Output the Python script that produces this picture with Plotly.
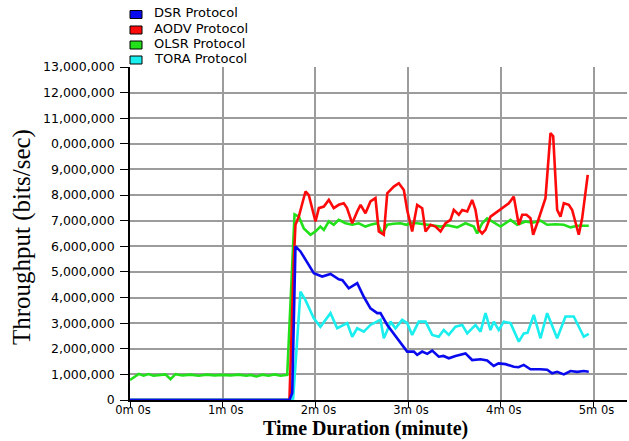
import plotly.graph_objects as go

# ---------------- data (time in minutes, throughput in bits/sec) ----------------
dsr_t = [0, 1.72, 1.750, 1.785, 1.839, 1.983, 2.073, 2.163, 2.252, 2.292, 2.360, 2.451, 2.522, 2.594,
         2.667, 2.702, 2.775, 2.846, 2.990, 3.062, 3.098, 3.152, 3.206, 3.260, 3.331, 3.382, 3.439,
         3.511, 3.619, 3.691, 3.781, 3.853, 3.924, 3.975, 4.051, 4.140, 4.191, 4.248, 4.320, 4.428,
         4.500, 4.554, 4.608, 4.680, 4.752, 4.824, 4.895, 4.949]
dsr_v = [0, 0, 0.27, 6.0, 5.8, 4.95, 4.82, 4.92, 4.71, 4.68, 4.36, 4.56, 4.03, 3.58,
         3.39, 3.39, 2.93, 2.6, 1.89, 1.89, 1.76, 1.89, 1.8, 1.93, 1.69, 1.72, 1.63,
         1.72, 1.82, 1.56, 1.59, 1.54, 1.33, 1.43, 1.40, 1.30, 1.28, 1.37, 1.2, 1.2,
         1.18, 1.04, 1.1, 1.0, 1.13, 1.1, 1.13, 1.1]

aodv_t = [0, 1.72, 1.767, 1.785, 1.821, 1.893, 1.929, 1.965, 2.001, 2.037, 2.091, 2.145, 2.198, 2.252,
          2.306, 2.340, 2.397, 2.451, 2.487, 2.540, 2.594, 2.648, 2.684, 2.738, 2.775, 2.846, 2.900,
          2.954, 2.990, 3.044, 3.098, 3.152, 3.188, 3.242, 3.296, 3.350, 3.404, 3.457, 3.493, 3.547,
          3.584, 3.638, 3.691, 3.727, 3.763, 3.799, 3.835, 3.889, 3.961, 4.032, 4.086, 4.140, 4.194,
          4.231, 4.277, 4.320, 4.349, 4.393, 4.482, 4.536, 4.565, 4.608, 4.644, 4.680, 4.734, 4.770,
          4.841, 4.878, 4.938]
aodv_v = [0, 0, 5.47, 6.84, 7.16, 8.14, 8.0, 7.49, 6.97, 7.49, 7.55, 7.81, 7.49, 7.62,
          7.68, 7.5, 6.9, 7.36, 7.62, 7.29, 7.75, 7.88, 6.58, 6.45, 8.07, 8.33, 8.46,
          8.2, 7.42, 6.58, 7.62, 7.49, 6.58, 6.84, 6.77, 6.58, 6.9, 7.03, 7.42, 7.23,
          7.42, 7.36, 7.81, 7.42, 6.64, 6.5, 6.64, 7.16, 7.36, 7.55, 7.68, 7.94, 6.84,
          7.23, 7.23, 7.1, 6.45, 6.9, 7.88, 10.42, 10.3, 7.42, 7.16, 7.68, 7.62, 7.42,
          6.45, 7.1, 8.79]

olsr_t = [0, 0.095, 0.146, 0.200, 0.253, 0.329, 0.383, 0.437, 0.491, 0.566, 0.652, 0.739, 0.825,
          0.912, 0.998, 1.084, 1.170, 1.257, 1.300, 1.365, 1.429, 1.494, 1.559, 1.624, 1.696, 1.775,
          1.821, 1.875, 1.947, 2.001, 2.054, 2.091, 2.145, 2.198, 2.252, 2.325, 2.397, 2.468, 2.540,
          2.594, 2.667, 2.721, 2.775, 2.843, 2.918, 2.983, 3.026, 3.098, 3.206, 3.274, 3.350, 3.425,
          3.530, 3.619, 3.709, 3.745, 3.799, 3.853, 3.921, 3.997, 4.105, 4.177, 4.266, 4.342, 4.428,
          4.500, 4.590, 4.680, 4.752, 4.827, 4.895, 4.949]
olsr_v = [0.78, 1.02, 0.95, 1.01, 0.95, 0.98, 1.0, 0.81, 1.01, 0.96, 0.99, 0.95, 0.99,
          0.96, 0.98, 0.96, 0.99, 0.95, 0.98, 0.92, 0.99, 0.95, 1.0, 0.95, 0.98, 7.25,
          7.16, 6.7, 6.45, 6.58, 6.77, 6.64, 6.97, 6.84, 7.03, 6.9, 6.84, 6.9, 6.77,
          6.84, 6.9, 6.5, 6.84, 6.88, 6.9, 6.84, 6.9, 6.9, 6.84, 6.8, 6.77, 6.82,
          6.74, 6.9, 6.77, 6.5, 6.9, 7.09, 6.95, 6.77, 7.03, 6.84, 6.97, 6.92, 7.0,
          6.84, 6.86, 6.84, 6.74, 6.8, 6.8, 6.8]

tora_t = [0, 1.72, 1.760, 1.839, 1.893, 1.983, 2.054, 2.109, 2.163, 2.235, 2.343, 2.397, 2.451, 2.522,
          2.594, 2.702, 2.738, 2.792, 2.810, 2.864, 2.936, 2.990, 3.044, 3.115, 3.188, 3.260, 3.331,
          3.385, 3.439, 3.511, 3.584, 3.638, 3.727, 3.781, 3.835, 3.889, 3.924, 3.978, 4.032, 4.105,
          4.194, 4.248, 4.288, 4.356, 4.428, 4.500, 4.554, 4.608, 4.698, 4.787, 4.895, 4.949]
tora_v = [0.02, 0.02, 0.05, 4.23, 3.9, 3.19, 2.86, 3.13, 3.39, 2.8, 3.0, 2.47, 2.8, 2.67,
          2.93, 3.13, 2.41, 2.86, 3.06, 2.8, 3.13, 3.0, 2.54, 3.06, 3.06, 2.54, 2.47,
          2.73, 2.54, 2.86, 2.93, 2.6, 2.93, 2.67, 3.39, 2.73, 3.06, 2.73, 3.06, 3.0,
          2.28, 2.6, 2.62, 3.32, 2.41, 3.39, 2.93, 2.41, 3.26, 3.26, 2.47, 2.58]

names = ["DSR Protocol", "AODV Protocol", "OLSR Protocol", "TORA Protocol"]
colors = ["#0a0aee", "#ff0a0a", "#22e01a", "#1aeeee"]

x_tickvals = [0, 1, 2, 3, 4, 5]
x_ticktext = ["0m 0s", "1m 0s", "2m 0s", "3m 0s", "4m 0s", "5m 0s"]
y_tickvals = [i * 1_000_000 for i in range(14)]
y_ticktext = ["0", "1,000,000", "2,000,000", "3,000,000", "4,000,000", "5,000,000",
              "6,000,000", "7,000,000", "8,000,000", "9,000,000", "0,000,000",
              "11,000,000", "12,000,000", "13,000,000"]

x_title = "Time Duration (minute)"
y_title = "Throughput (bits/sec)"

# ---------------- figure ----------------
W, H = 629, 441
ML, MR, MT, MB = 130, 2, 67, 41
PW, PH = W - ML - MR, H - MT - MB


def px(x):
    return (x - ML) / PW


def py(y):
    return (H - MB - y) / PH


series = [(dsr_t, dsr_v), (aodv_t, aodv_v), (olsr_t, olsr_v), (tora_t, tora_v)]
fig = go.Figure()
# draw TORA, OLSR, AODV, DSR so DSR ends up on top
for i in [3, 2, 1, 0]:
    t, v = series[i]
    fig.add_trace(go.Scatter(
        x=t, y=[val * 1_000_000 for val in v], mode="lines", name=names[i],
        line=dict(color=colors[i], width=2.6), showlegend=False,
    ))

fig.update_layout(
    width=W, height=H,
    margin=dict(l=ML, r=MR, t=MT, b=MB, autoexpand=False),
    paper_bgcolor="white", plot_bgcolor="white",
    font=dict(family="DejaVu Sans", size=12, color="black"),
    showlegend=False,
)
fig.update_xaxes(
    range=[0, PW / 92.7], tickvals=x_tickvals, ticktext=x_ticktext,
    showgrid=True, gridcolor="#9c9c9c", gridwidth=1.5,
    showline=True, linecolor="black", linewidth=1.5,
    ticks="outside", ticklen=5, tickcolor="black", tickwidth=1.2,
    ticklabelstandoff=-7, ticklabelshift=3,
    tickfont=dict(family="DejaVu Sans", size=11.5), zeroline=False,
)
fig.update_yaxes(
    range=[0, 13_000_000], tickvals=y_tickvals, ticktext=y_ticktext,
    showgrid=True, gridcolor="#9c9c9c", gridwidth=1.5,
    showline=True, linecolor="black", linewidth=1.8,
    ticks="outside", ticklen=8, tickcolor="black", tickwidth=1.2,
    ticklabelstandoff=3,
    tickfont=dict(family="DejaVu Sans", size=12.5), zeroline=False,
)

# axis titles
fig.add_annotation(text="<b>" + x_title + "</b>", xref="paper", yref="paper",
                   x=px(365), y=py(441), borderpad=0,
                   showarrow=False, xanchor="center", yanchor="bottom",
                   font=dict(family="Liberation Serif", size=20, color="black"))
fig.add_annotation(text=y_title, xref="paper", yref="paper", x=px(22), y=py(237),
                   showarrow=False, textangle=-90, xanchor="center", yanchor="middle",
                   font=dict(family="Liberation Serif", size=25, color="black"))

# legend (compact, as in the reference)
text_y = [12.5, 28, 43, 58]
for i, name in enumerate(names):
    cy = text_y[i] + 2
    fig.add_shape(type="rect", xref="paper", yref="paper",
                  x0=px(130), x1=px(142), y0=py(cy + 4), y1=py(cy - 4),
                  fillcolor=colors[i], line=dict(color="black", width=1))
    fig.add_annotation(text=name, xref="paper", yref="paper", x=px(152), y=py(text_y[i]),
                       showarrow=False, xanchor="left", yanchor="middle",
                       font=dict(family="DejaVu Sans", size=13, color="black"))

fig.write_html("out.html", config={"displayModeBar": False},
               post_script="document.body.style.margin='0';document.body.style.overflow='hidden';")
